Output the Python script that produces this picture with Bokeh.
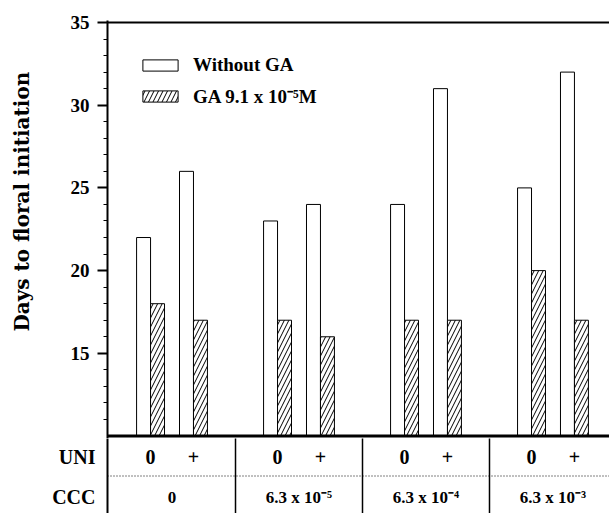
from bokeh.plotting import figure
from bokeh.models import Range1d, FixedTicker, Span, Legend, LegendItem, ColumnDataSource
from bokeh.layouts import column
from bokeh.core.properties import value
from bokeh.embed import file_html
from bokeh.resources import INLINE

# ---- data ----
ccc_labels = ["0", "6.3 x 10\u207b\u2075", "6.3 x 10\u207b\u2074", "6.3 x 10\u207b\u00b3"]
uni_labels = ["0", "+"]
without_ga = [22, 26, 23, 24, 24, 31, 25, 32]
with_ga = [18, 17, 17, 16, 17, 17, 20, 17]
y_ticks = [15, 20, 25, 30, 35]
y_minor = [v for v in range(11, 35)]
series_names = ["Without GA", "GA 9.1 x 10\u207b\u2075M"]

# ---- layout constants ----
FONT = "Liberation Serif"
pair_gap = 0.338
bar_w = 0.11
x_range = Range1d(-0.508, 3.445)

groups = list(range(len(ccc_labels)))
pair_x = [g + (p - 0.5) * pair_gap for g in groups for p in range(len(uni_labels))]
uni_text = [uni_labels[p] for g in groups for p in range(len(uni_labels))]

src = ColumnDataSource(dict(
    x0=[x - bar_w / 2 for x in pair_x],
    x1=[x + bar_w / 2 for x in pair_x],
    a=without_ga,
    b=with_ga,
))

p = figure(width=609, height=438, x_range=x_range, y_range=Range1d(9.85, 35.12),
           output_backend="svg", toolbar_location=None, x_axis_location=None,
           min_border_left=107, min_border_right=0, min_border_top=20, min_border_bottom=0)
p.outline_line_color = None
p.xgrid.visible = False
p.ygrid.visible = False
p.background_fill_color = "white"

r1 = p.vbar(x="x0", top="a", bottom=10, width=bar_w, source=src,
            fill_color="white", line_color="black", line_width=1)
r2 = p.vbar(x="x1", top="b", bottom=10, width=bar_w, source=src,
            fill_color="white", line_color="black", line_width=1,
            hatch_pattern="/", hatch_color="black", hatch_scale=9, hatch_weight=1)

p.add_layout(Span(location=35, dimension="width", line_color="black", line_width=2))
p.add_layout(Span(location=10, dimension="width", line_color="black", line_width=3))

ya = p.yaxis[0]
ya.ticker = FixedTicker(ticks=y_ticks, minor_ticks=y_minor)
ya.axis_line_width = 2
ya.major_tick_line_width = 2
ya.major_tick_out = 10
ya.major_tick_in = 0
ya.minor_tick_out = 4
ya.minor_tick_in = 0
ya.major_label_standoff = 8
ya.major_label_text_font = FONT
ya.major_label_text_font_style = "bold"
ya.major_label_text_font_size = "19px"
ya.major_label_text_color = "black"
ya.axis_label = "\u00a0" * 8 + "Days to floral initiation"
ya.axis_label_text_font = "DejaVu Serif"
ya.axis_label_text_font_style = "bold"
ya.axis_label_text_font_size = "20px"
ya.axis_label_text_color = "black"
ya.axis_label_standoff = 34

legend = Legend(items=[LegendItem(label=series_names[0], renderers=[r1]),
                       LegendItem(label=series_names[1], renderers=[r2])],
                location=(31, 329))
legend.glyph_width = 44
legend.glyph_height = 14
legend.label_standoff = 11
legend.label_text_font = FONT
legend.label_text_font_style = "bold"
legend.label_text_font_size = "19px"
legend.label_text_color = "black"
legend.label_height = 14
legend.spacing = 7
legend.padding = 0
legend.margin = 0
legend.border_line_color = None
legend.background_fill_alpha = 0
p.add_layout(legend, "center")

# ---- table below ----
t = figure(width=609, height=75, x_range=x_range, y_range=Range1d(0, 1),
           output_backend="svg", toolbar_location=None, x_axis_location=None,
           min_border_left=107, min_border_right=0, min_border_top=0, min_border_bottom=0)
t.outline_line_color = None
t.xgrid.visible = False
t.ygrid.visible = False
ta = t.yaxis[0]
ta.ticker = FixedTicker(ticks=[0.75, 0.22], minor_ticks=[])
ta.major_label_overrides = {0.75: "UNI", 0.22: "CCC"}
ta.major_tick_out = 0
ta.major_tick_in = 0
ta.axis_line_width = 2
ta.major_label_standoff = 12
ta.major_label_text_font = FONT
ta.major_label_text_font_style = "bold"
ta.major_label_text_font_size = "20px"
ta.major_label_text_color = "black"

t.segment(x0=[g + 0.5 for g in groups[:-1]], x1=[g + 0.5 for g in groups[:-1]],
          y0=0, y1=1.05, line_color="black", line_width=1.5)
t.segment(x0=x_range.start, x1=x_range.end, y0=0.5, y1=0.5,
          line_color="black", line_width=1, line_dash="1 2")
t.text(x=pair_x, y=[0.75] * len(pair_x), text=uni_text,
       text_align="center", text_baseline="middle",
       text_font=value(FONT), text_font_style="bold", text_font_size="20px", text_color="black")
t.text(x=groups, y=[0.22] * len(groups), text=ccc_labels,
       text_align="center", text_baseline="middle",
       text_font=value(FONT), text_font_style="bold", text_font_size="17px", text_color="black")

layout = column(p, t, spacing=0)
open("out.html", "w").write(file_html(layout, INLINE))
